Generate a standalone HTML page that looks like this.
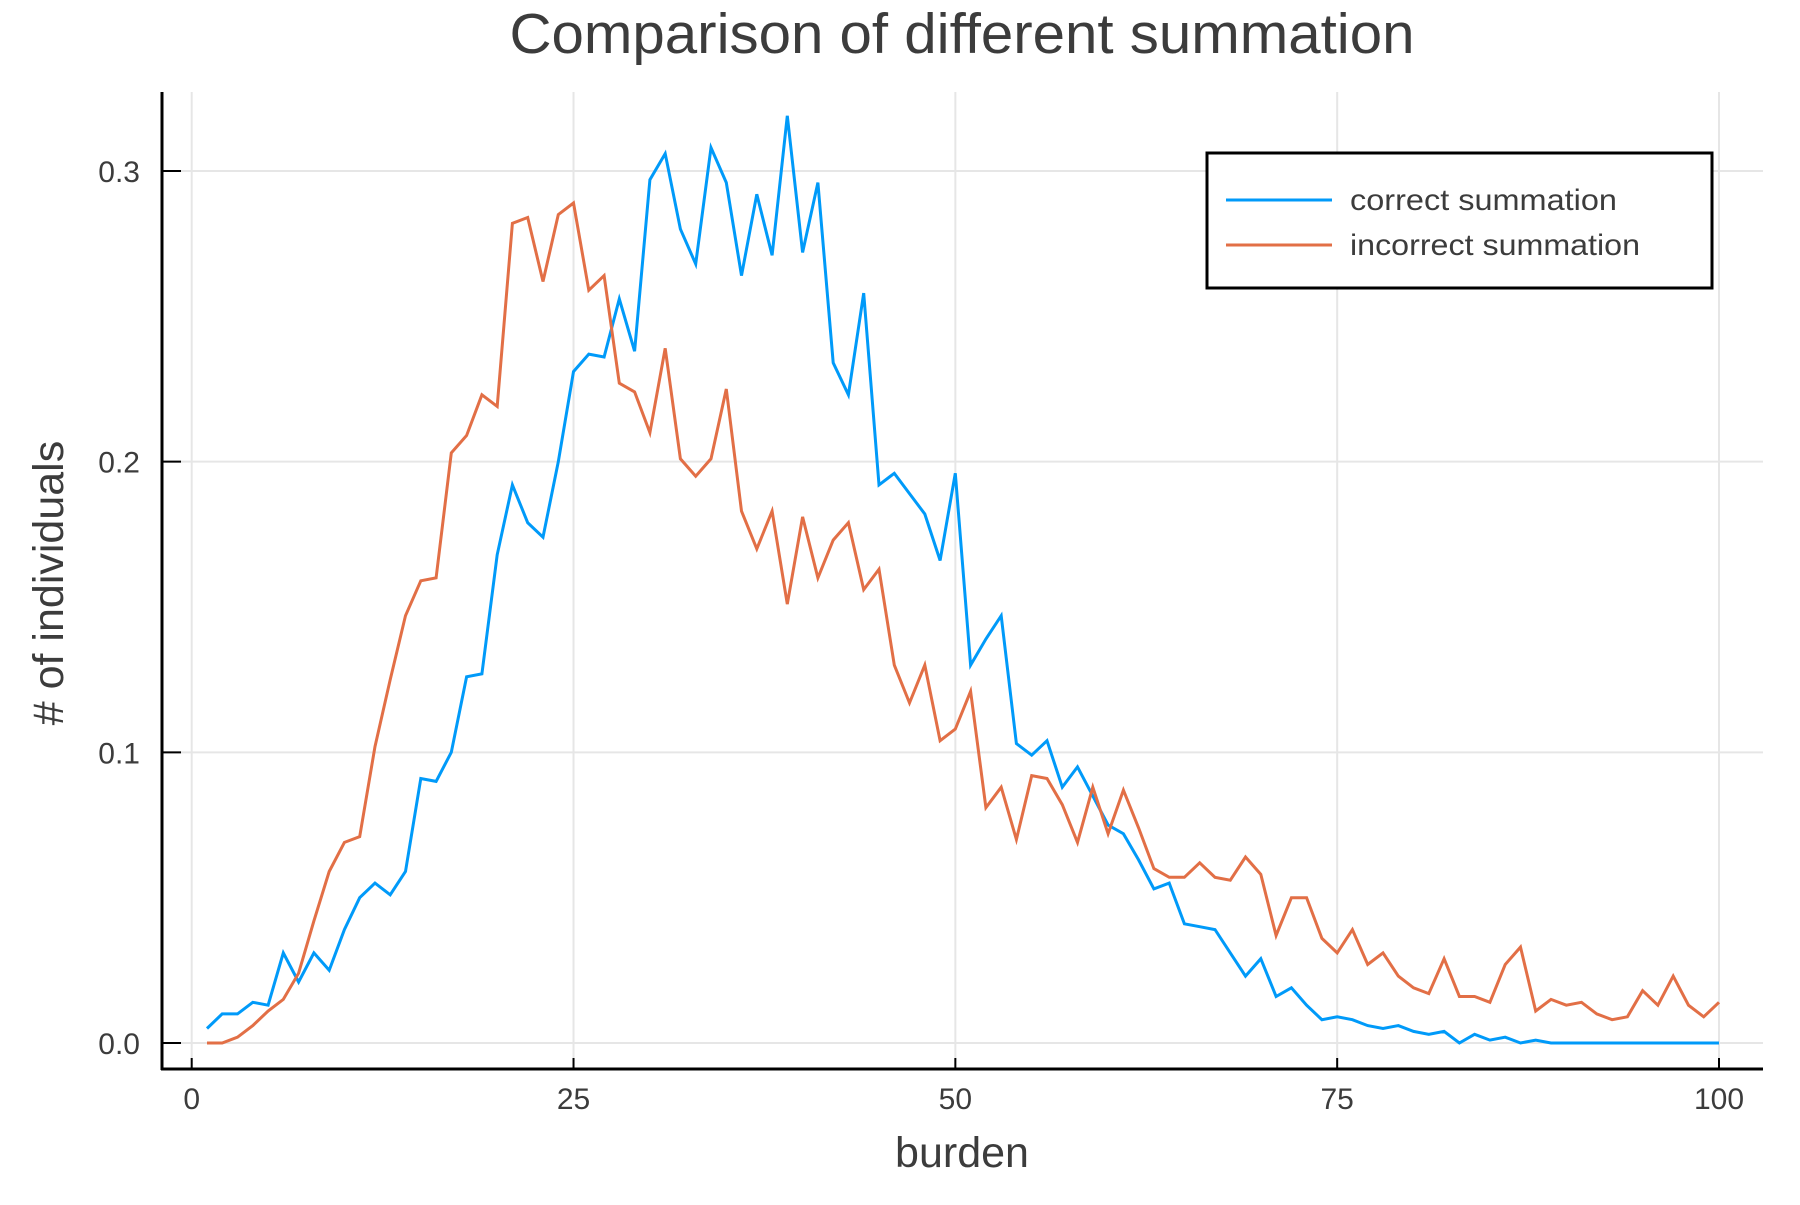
<!DOCTYPE html>
<html><head><meta charset="utf-8"><style>
body{margin:0;background:#fff}
svg text{font-family:"Liberation Sans",sans-serif;fill:#3c3c3c}
</style></head><body>
<svg id="chart" width="1800" height="1200" viewBox="0 0 1800 1200" xmlns="http://www.w3.org/2000/svg">
<rect width="1800" height="1200" fill="#fff"/>
<text x="962" y="53" font-size="57" text-anchor="middle" textLength="905" lengthAdjust="spacingAndGlyphs">Comparison of different summation</text>
<g id="grid"></g>
<g id="series"></g>
<g id="axes"></g>
<text x="962" y="1167" font-size="43" text-anchor="middle">burden</text>
<text transform="translate(63,583) rotate(-90)" font-size="43" text-anchor="middle"># of individuals</text>
<g>
<rect x="1207" y="153" width="505" height="135" fill="#fff" stroke="#000" stroke-width="3"/>
<line x1="1226" y1="200" x2="1332" y2="200" stroke="#009af9" stroke-width="3"/>
<text x="1350" y="210" font-size="30" textLength="267" lengthAdjust="spacingAndGlyphs">correct summation</text>
<line x1="1226" y1="245" x2="1332" y2="245" stroke="#e26f46" stroke-width="3"/>
<text x="1350" y="255" font-size="30" textLength="290" lengthAdjust="spacingAndGlyphs">incorrect summation</text>
</g>
</svg>
<script>
const correctValues=[0.005,0.01,0.01,0.014,0.013,0.031,0.021,0.031,0.025,0.039,0.05,0.055,0.051,0.059,0.091,0.09,0.1,0.126,0.127,0.168,0.192,0.179,0.174,0.2,0.231,0.237,0.236,0.256,0.238,0.297,0.306,0.28,0.268,0.308,0.296,0.264,0.292,0.271,0.319,0.272,0.296,0.234,0.223,0.258,0.192,0.196,0.189,0.182,0.166,0.196,0.13,0.139,0.147,0.103,0.099,0.104,0.088,0.095,0.085,0.075,0.072,0.063,0.053,0.055,0.041,0.04,0.039,0.031,0.023,0.029,0.016,0.019,0.013,0.008,0.009,0.008,0.006,0.005,0.006,0.004,0.003,0.004,0,0.003,0.001,0.002,0,0.001,0,0,0,0,0,0,0,0,0,0,0,0];
const incorrectValues=[0,0,0.002,0.006,0.011,0.015,0.024,0.042,0.059,0.069,0.071,0.102,0.125,0.147,0.159,0.16,0.203,0.209,0.223,0.219,0.282,0.284,0.262,0.285,0.289,0.259,0.264,0.227,0.224,0.21,0.239,0.201,0.195,0.201,0.225,0.183,0.17,0.183,0.151,0.181,0.16,0.173,0.179,0.156,0.163,0.13,0.117,0.13,0.104,0.108,0.121,0.081,0.088,0.07,0.092,0.091,0.082,0.069,0.088,0.072,0.087,0.074,0.06,0.057,0.057,0.062,0.057,0.056,0.064,0.058,0.037,0.05,0.05,0.036,0.031,0.039,0.027,0.031,0.023,0.019,0.017,0.029,0.016,0.016,0.014,0.027,0.033,0.011,0.015,0.013,0.014,0.01,0.008,0.009,0.018,0.013,0.023,0.013,0.009,0.014];
const xTicks=[0,25,50,75,100];
const yTicks=[0,0.1,0.2,0.3];
const yTickLabels=["0.0","0.1","0.2","0.3"];

const NS="http://www.w3.org/2000/svg";
const X0=191.7,X1=1719,Y0=1043,Y3=171;
function xs(v){return X0+(X1-X0)*v/100;}
function ys(v){return Y0+(Y3-Y0)*v/0.3;}
function mk(tag,attrs,parent){const e=document.createElementNS(NS,tag);for(const k in attrs)e.setAttribute(k,attrs[k]);parent.appendChild(e);return e;}
const grid=document.getElementById('grid'),axes=document.getElementById('axes'),series=document.getElementById('series');
const L=162,B=1069,R=1763,T=92;
xTicks.forEach(t=>{
  const g=mk('line',{x1:xs(t),x2:xs(t),y1:T,y2:B,stroke:'#e6e6e6','stroke-width':2},grid);
  
  
  const tk=mk('line',{x1:xs(t),x2:xs(t),y1:B,y2:B-11,stroke:'#000','stroke-width':2},axes);
  
  
  const tx=mk('text',{x:xs(t),y:1109,'font-size':30,'text-anchor':'middle'},axes);
  tx.textContent=t;
  
  
});
yTicks.forEach((t,i)=>{
  const g=mk('line',{x1:L,x2:R,y1:ys(t),y2:ys(t),stroke:'#e6e6e6','stroke-width':2},grid);
  
  
  const tk=mk('line',{x1:L,x2:L+19,y1:ys(t),y2:ys(t),stroke:'#000','stroke-width':2},axes);
  
  
  const tx=mk('text',{x:140,y:ys(t)+11,'font-size':30,'text-anchor':'end'},axes);
  tx.textContent=yTickLabels[i];
  
  
});
const ya=mk('line',{x1:L,x2:L,y1:T,y2:B+1,stroke:'#000','stroke-width':3},axes);


const xa=mk('line',{x1:L-1,x2:R,y1:B,y2:B,stroke:'#000','stroke-width':3},axes);


function path(vals,color,name){
  const d=vals.map((v,i)=>(i?'L':'M')+xs(i+1).toFixed(1)+','+ys(v).toFixed(1)).join(' ');
  const p=mk('path',{d:d,fill:'none',stroke:color,'stroke-width':3,'stroke-linejoin':'miter'},series);
  
  
}
path(correctValues,'#009af9','correct-summation-line');
path(incorrectValues,'#e26f46','incorrect-summation-line');
</script>
</body></html>
